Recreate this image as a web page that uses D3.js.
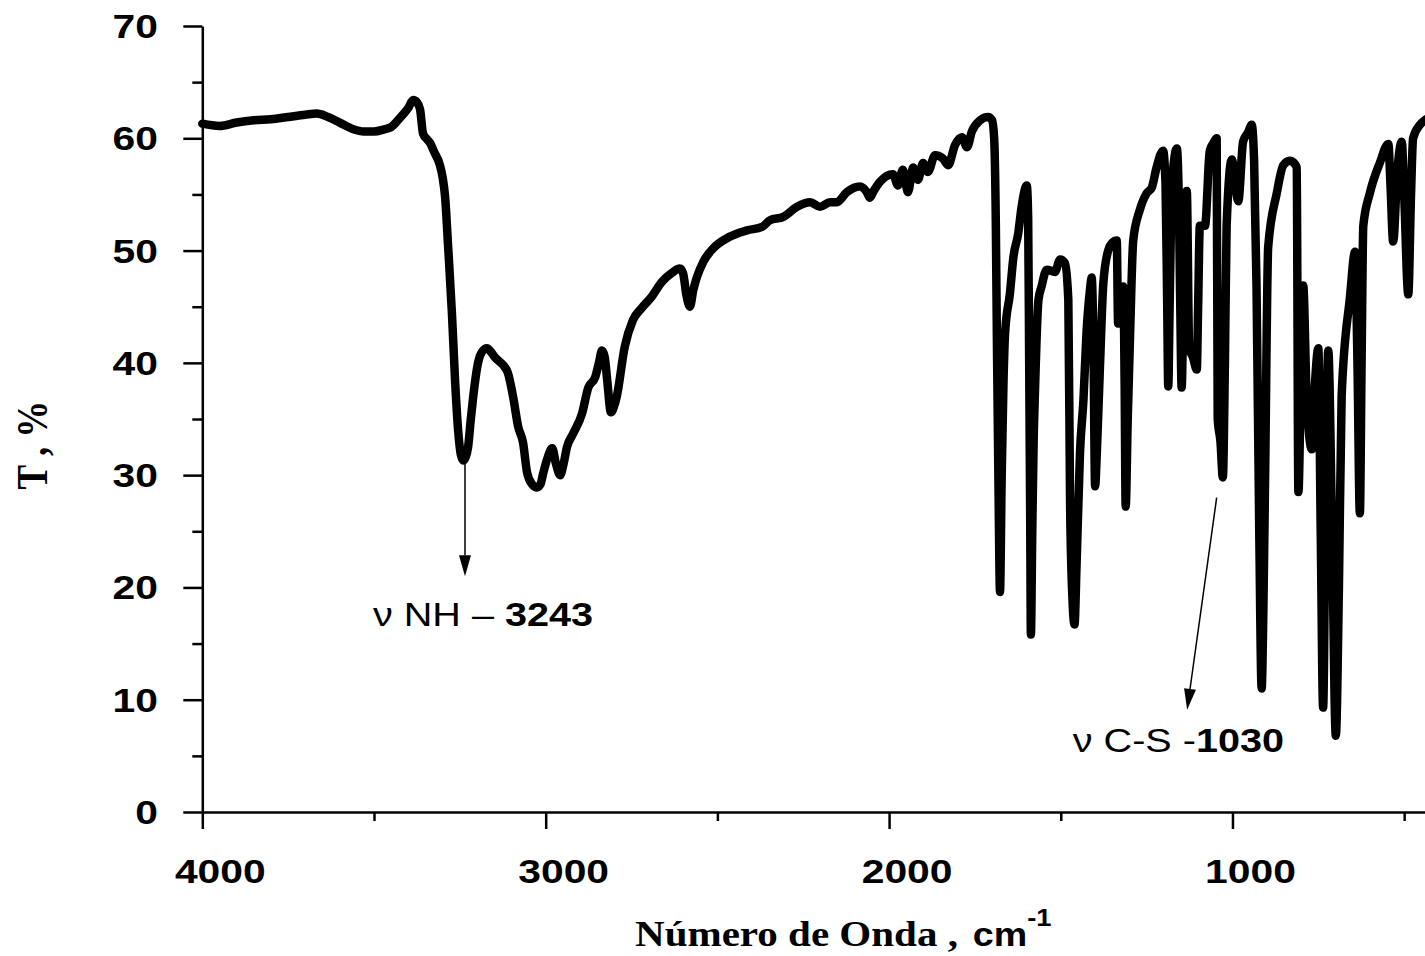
<!DOCTYPE html>
<html>
<head>
<meta charset="utf-8">
<script src="https://cdn.jsdelivr.net/npm/d3@7/dist/d3.min.js"></script>
<style>
  html, body { margin: 0; padding: 0; background: #fff; }
  svg { display: block; }
</style>
</head>
<body>
<script>
// ---------- DATA ----------
const wavenumber = [
  4000,3950,3900,3850,3800,3750,3700,3667,3634,3600,3560,3530,3500,3470,3450,3425,3400,3386,3375,3366,
  3357,3345,3337,3325,3308,3300,3293,3284,3273,3264,3255,3247,3240,3233,3226,3218,3211,3197,3185,3171,
  3160,3148,3124,3110,3095,3080,3066,3054,3040,3025,3015,3007,2995,2981,2970,2958,2948,2938,2920,2894,
  2876,2856,2845,2836,2828,2821,2810,2800,2793,2770,2746,2720,2691,2662,2633,2609,2600,2590,2580,2570,
  2560,2541,2512,2472,2434,2414,2370,2347,2308,2268,2230,2201,2172,2152,2123,2085,2065,2056,2045,2027,
  1989,1974,1960,1945,1930,1916,1901,1887,1866,1843,1828,1808,1788,1773,1759,1735,1712,1700,1694,1689,
  1686,1681,1677,1672,1667,1662,1648,1638,1624,1614,1599,1595,1592,1589,1587,1583,1579,1575,1565,1556,
  1541,1517,1502,1488,1478,1473,1466,1460,1454,1444,1434,1425,1415,1410,1405,1400,1395,1386,1376,1362,
  1350,1337,1333,1318,1314,1311,1305,1298,1289,1270,1250,1235,1221,1202,1195,1190,1187,1183,1177,1168,
  1162,1156,1152,1148,1143,1138,1133,1126,1115,1104,1100,1095,1080,1066,1055,1046,1043,1035,1028,1022,
  1017,1002,983,969,955,944,937,930,922,915,910,905,896,871,852,833,818,813,808,800,
  794,784,769,760,750,743,736,728,721,710,699,690,682,658,643,636,629,624,619,600,
  571,546,540,532,520,507,500,488,480,474,454,440,420,400
];
const transmittance = [
  61.3,61.1,61.4,61.6,61.7,61.9,62.1,62.2,61.9,61.4,60.8,60.6,60.6,60.8,61.0,61.8,62.7,63.4,63.2,62.6,
  60.4,59.9,59.6,58.8,57.6,56.5,54.8,50.3,44.4,38.5,34.0,31.8,31.3,31.6,32.5,35.0,37.0,40.0,41.0,41.3,
  41.0,40.5,39.8,39.1,37.0,34.3,32.9,30.2,29.2,28.9,29.2,30.2,31.5,32.4,31.0,30.0,31.0,32.5,33.7,35.5,
  37.8,38.7,40.0,41.1,40.5,38.5,35.6,36.2,37.0,41.4,43.8,44.9,45.9,47.2,48.0,48.4,48.0,46.0,45.0,46.5,
  47.6,49.0,50.2,51.1,51.6,51.8,52.1,52.7,53.0,53.9,54.3,53.9,54.3,54.3,55.2,55.7,55.2,54.7,55.3,56.1,
  56.8,55.8,57.2,55.2,57.4,56.3,57.8,57.0,58.5,58.2,57.6,59.4,60.1,59.2,60.6,61.6,61.9,61.6,60.0,52.0,
  42.0,28.0,19.6,30.0,38.0,42.7,46.2,49.4,51.5,53.9,55.8,53.0,40.0,26.0,15.8,25.0,33.0,37.6,45.6,46.8,
  48.3,48.1,49.2,48.9,45.6,27.8,19.0,16.7,22.0,32.0,36.7,42.7,46.5,47.6,42.0,29.0,32.0,39.6,47.1,50.0,
  50.7,50.9,43.5,46.8,38.0,27.2,35.0,42.7,50.9,53.6,55.1,55.6,57.4,58.9,56.0,45.0,37.9,45.0,55.0,58.5,
  59.1,54.0,45.0,37.8,45.0,52.0,55.3,41.3,40.5,39.4,45.0,52.2,52.2,58.9,59.6,60.0,35.0,33.0,29.8,40.0,
  52.2,58.1,54.4,59.7,60.5,61.2,58.0,46.9,25.0,11.0,18.0,29.7,50.3,55.1,57.6,58.0,57.7,57.4,28.5,40.0,
  46.9,37.1,32.3,38.0,41.3,25.0,9.3,30.0,41.1,25.0,6.8,20.0,37.1,45.8,49.9,40.0,26.6,40.0,52.2,55.1,
  57.8,59.5,56.0,50.8,57.0,59.7,55.0,46.1,55.0,60.0,61.2,61.6,62.0,62.3
];
const xMajorTicks = [4000, 3000, 2000, 1000];
const xMinorTicks = [3500, 2500, 1500, 500];
const yMajorTicks = [0, 10, 20, 30, 40, 50, 60, 70];
const yMinorTicks = [5, 15, 25, 35, 45, 55, 65];
const xTitleMain = "Número de Onda , ";
const xTitleUnit = "cm";
const xTitleSup = "-1";
const yTitle = "T , %";
// annotations: label parts (normal, bold), arrow from/to in data units, text anchor in data units
const annLabelsNormal = ["ν NH – ", "ν C-S -"];
const annLabelsBold = ["3243", "1030"];
const annArrowFrom = [[3235, 31.0], [1046, 28.0]];
const annArrowTo = [[3235, 21.0], [1132, 9.1]];
const annTextPos = [[3503, 16.56], [1465, 5.34]];

// ---------- CHART ----------
const W = 1425, H = 956;
const SX = 1.2; // horizontal stretch of the original lettering
const sans = "'Liberation Sans', Arial, Helvetica, sans-serif";
const serif = "'Liberation Serif', 'Times New Roman', Times, serif";

const svg = d3.select("body").append("svg").attr("width", W).attr("height", H);

const x = d3.scaleLinear().domain([4000, 400]).range([202.3, 1438.5]);
const y = d3.scaleLinear().domain([0, 70]).range([812, 26]);

function styleAxis(g) {
  g.selectAll("path.domain").attr("stroke", "#000").attr("stroke-width", 2.5);
  g.selectAll(".tick line").attr("stroke", "#000").attr("stroke-width", 2.5);
  g.selectAll(".tick text").remove();
}

// Y axis (major + minor)
svg.append("g").attr("transform", `translate(${x(4000)},0)`)
  .call(d3.axisLeft(y).tickValues(yMajorTicks).tickSize(19).tickSizeOuter(0))
  .call(styleAxis);
svg.append("g").attr("transform", `translate(${x(4000)},0)`)
  .call(d3.axisLeft(y).tickValues(yMinorTicks).tickSize(10).tickSizeOuter(0))
  .call(styleAxis)
  .call(g => g.select("path.domain").remove());

// X axis (major + minor)
svg.append("g").attr("transform", `translate(0,${y(0)})`)
  .call(d3.axisBottom(x).tickValues(xMajorTicks).tickSize(17).tickSizeOuter(0))
  .call(styleAxis);
svg.append("g").attr("transform", `translate(0,${y(0)})`)
  .call(d3.axisBottom(x).tickValues(xMinorTicks).tickSize(9).tickSizeOuter(0))
  .call(styleAxis)
  .call(g => g.select("path.domain").remove());

// Tick labels
svg.append("g").selectAll("text").data(yMajorTicks).join("text")
  .attr("transform", d => `translate(158,${y(d) + 12}) scale(${SX},1)`)
  .attr("text-anchor", "end")
  .attr("font-family", sans).attr("font-weight", "bold").attr("font-size", 34)
  .text(d => d);

svg.append("g").selectAll("text").data(xMajorTicks).join("text")
  .attr("transform", d => `translate(${x(d) + 18},883) scale(${SX},1)`)
  .attr("text-anchor", "middle")
  .attr("font-family", sans).attr("font-weight", "bold").attr("font-size", 34)
  .text(d => d);

// Axis titles
svg.append("text")
  .attr("transform", `translate(47,445) scale(${SX},1) rotate(-90)`)
  .attr("text-anchor", "middle")
  .attr("font-family", serif).attr("font-weight", "bold").attr("font-size", 37)
  .text(yTitle);

const xt = svg.append("text")
  .attr("transform", `translate(635,946) scale(1.14,1)`)
  .attr("font-weight", "bold").attr("font-size", 36);
xt.append("tspan").attr("font-family", serif).text(xTitleMain);
xt.append("tspan").attr("font-family", sans).attr("font-size", 33).attr("dx", 4).text(xTitleUnit);
xt.append("tspan").attr("font-family", sans).attr("font-size", 24).attr("dy", -20).text(xTitleSup);

// Spectrum line
const pts = wavenumber.map((w, i) => [w, transmittance[i]]);
svg.append("path")
  .datum(pts)
  .attr("fill", "none")
  .attr("stroke", "#000")
  .attr("stroke-width", 8.5)
  .attr("stroke-linejoin", "round")
  .attr("stroke-linecap", "round")
  .attr("d", d3.line().x(d => x(d[0])).y(d => y(d[1])).curve(d3.curveMonotoneX));

// Annotations
annArrowFrom.forEach((f, i) => {
  const x0 = x(f[0]), y0 = y(f[1]);
  const x1 = x(annArrowTo[i][0]), y1 = y(annArrowTo[i][1]);
  const dx = x1 - x0, dy = y1 - y0, len = Math.hypot(dx, dy);
  const ux = dx / len, uy = dy / len;
  const hl = 21, hw = 6;
  const bx = x1 - ux * hl, by = y1 - uy * hl;
  svg.append("line").attr("x1", x0).attr("y1", y0).attr("x2", bx).attr("y2", by)
    .attr("stroke", "#000").attr("stroke-width", 1.5);
  svg.append("polygon")
    .attr("points", [[x1, y1], [bx - uy * hw, by + ux * hw], [bx + uy * hw, by - ux * hw]].map(p => p.join(",")).join(" "))
    .attr("fill", "#000");
  const t = svg.append("text")
    .attr("transform", `translate(${x(annTextPos[i][0])},${y(annTextPos[i][1])}) scale(${SX},1)`)
    .attr("font-family", sans).attr("font-size", 33);
  t.append("tspan").text(annLabelsNormal[i]);
  t.append("tspan").attr("font-weight", "bold").text(annLabelsBold[i]);
});
</script>
</body>
</html>
